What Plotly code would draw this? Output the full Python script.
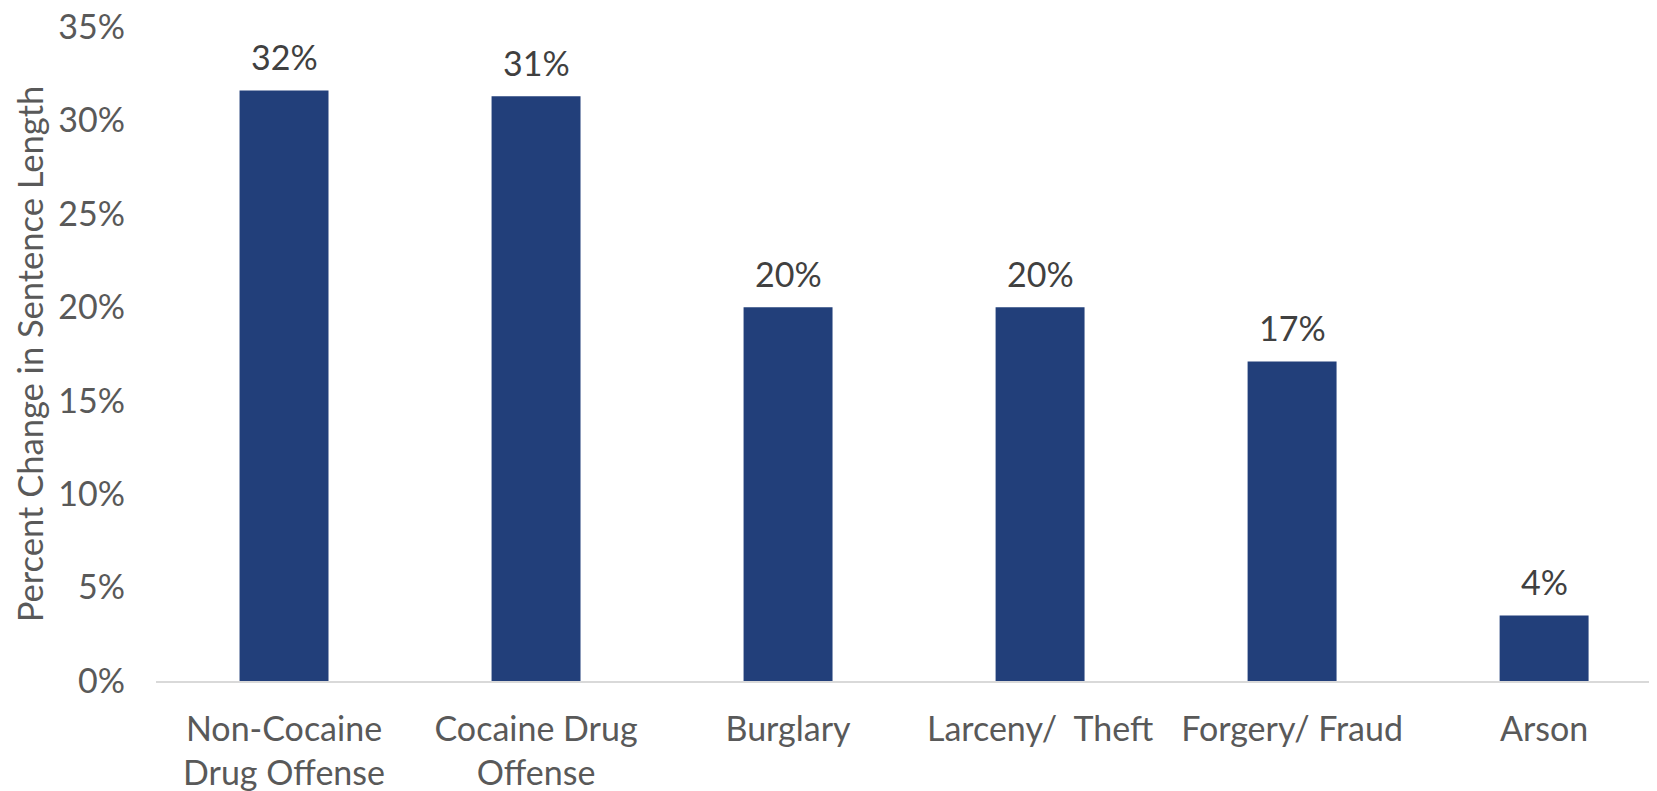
import plotly.graph_objects as go

categories = ["Non-Cocaine<br>Drug Offense", "Cocaine Drug<br>Offense", "Burglary",
              "Larceny/\u00a0 Theft", "Forgery/ Fraud", "Arson"]
values = [31.6, 31.3, 20.0, 20.0, 17.1, 3.5]
value_labels = ["32%", "31%", "20%", "20%", "17%", "4%"]
y_ticks = [0, 5, 10, 15, 20, 25, 30, 35]
y_tick_labels = ["0%", "5%", "10%", "15%", "20%", "25%", "30%", "35%"]

FONT = "Lato, Calibri, Carlito, sans-serif"

fig = go.Figure(go.Bar(
    x=categories,
    y=values,
    marker=dict(color="#223F7A", line=dict(width=0)),
    width=0.353,
    hoverinfo="x+y",
))

for cat, val, lab in zip(categories, values, value_labels):
    fig.add_annotation(
        x=cat, y=val, text=lab, showarrow=False,
        xanchor="center", yanchor="middle", yshift=34,
        font=dict(family=FONT, size=34, color="#404040"),
    )

fig.update_layout(
    width=1649, height=783,
    margin=dict(l=148, r=0, t=19, b=110, autoexpand=False),
    paper_bgcolor="white", plot_bgcolor="white",
    font=dict(family=FONT, size=34, color="#595959"),
    showlegend=False,
)
fig.update_xaxes(
    range=[-0.508, 5.448], automargin=False,
    showline=True, linecolor="#D9D9D9", linewidth=2,
    showgrid=False, ticks="", ticklabelstandoff=17,
    ticklabeloverflow="allow",
    tickfont=dict(size=34, color="#595959"),
)
fig.update_yaxes(
    range=[0, 35], tickvals=y_ticks, ticktext=y_tick_labels, automargin=False,
    showgrid=False, zeroline=False, showline=False, ticks="",
    ticklabelstandoff=30, ticklabeloverflow="allow",
    tickfont=dict(size=34, color="#595959"),
    title=dict(text="Percent Change in Sentence Length", font=dict(size=34.5, color="#595959"), standoff=4),
)

fig.write_html("out.html")
